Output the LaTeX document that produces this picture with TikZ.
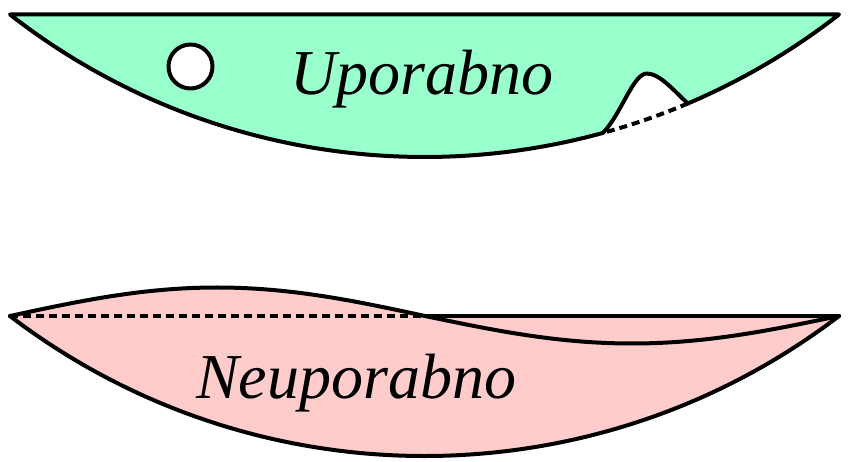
\documentclass[tikz,border=0pt]{standalone}
\usepackage{fontspec}
\setmainfont{Liberation Serif}
\definecolor{usegreen}{RGB}{153,255,204}
\definecolor{usepink}{RGB}{255,204,204}
\tikzset{
  outline/.style={draw=black, line width=4pt, line join=round, line cap=round},
  dashline/.style={draw=black, line width=4pt, dash pattern=on 8pt off 5pt},
  label/.style={font=\fontsize{64}{72}\selectfont\itshape, inner sep=0pt, anchor=base}
}
\begin{document}
\begin{tikzpicture}[x=1pt, y=-1pt]
\useasboundingbox (0,0) rectangle (849,462);
% ---------- upper shape ----------
\coordinate (TL) at (10,14.5);
\coordinate (TR) at (839,14.5);
\coordinate (B1) at (603,132.9);
\coordinate (B2) at (688,103.4);
\coordinate (P) at (647,73.5);
\fill[usegreen] (TL) -- (TR) arc[start angle=52.05, end angle=67, radius=674.1]
  .. controls (675,92) and (660,73.5) .. (P)
  .. controls (633,73.5) and (622,113) .. (B1)
  arc[start angle=74.64, end angle=127.95, radius=674.1] -- cycle;
\draw[outline] (TL) -- (TR) arc[start angle=52.05, end angle=67, radius=674.1]
  .. controls (675,92) and (660,73.5) .. (P)
  .. controls (633,73.5) and (622,113) .. (B1)
  arc[start angle=74.64, end angle=127.95, radius=674.1] -- cycle;
\draw[dashline] (B2) arc[start angle=67, end angle=74.64, radius=674.1];
\draw[outline, fill=white] (190.5,66.5) circle[radius=22];
\node[label] (up) at (422,95) {Uporabno};
% ---------- lower shape ----------
\coordinate (LL) at (10,316);
\coordinate (LM) at (425,316);
\coordinate (LR) at (839,316);
\coordinate (Top) at (217,287.5);
\coordinate (Low) at (632,343.5);
\fill[usepink] (LL) sin (Top) cos (LM) -- (LR)
  arc[start angle=52.67, end angle=127.33, radius=683.6] -- cycle;
\draw[outline] (LL) sin (Top) cos (LM) sin (Low) cos (LR);
\draw[outline] (LM) -- (LR);
\draw[dashline] (LL) -- (LM);
\draw[outline] (LR) arc[start angle=52.67, end angle=127.33, radius=683.6];
\node[label] (neup) at (356,398) {Neuporabno};
\end{tikzpicture}
\end{document}
